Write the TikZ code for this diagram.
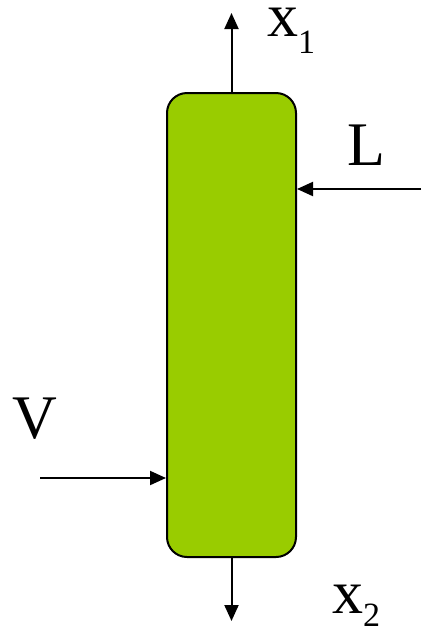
\documentclass[tikz,border=0pt]{standalone}
\usepackage{fontspec}
\setmainfont{Liberation Serif}
\usetikzlibrary{arrows.meta}
\begin{document}
\begin{tikzpicture}[x=1pt,y=-1pt,
  flow/.style={line width=2pt,-{Triangle[length=16pt,width=14pt]}},
  lbl/.style={inner sep=0pt,anchor=base west,font=\fontsize{62}{72}\selectfont},
  column/.style={draw=black,line width=2pt,fill={rgb,255:red,153;green,204;blue,0},rounded corners=20pt}]
\useasboundingbox (0,0) rectangle (421,630);
\node[column,minimum width=129pt,minimum height=464pt,inner sep=0pt] (col) at (231.5,325) {};
\coordinate (topend) at (231.5,13);
\coordinate (botend) at (231.5,621);
\coordinate (Lstart) at (421,189);
\coordinate (Vstart) at (40,478);
\draw[flow] (col.north) -- (topend);
\draw[flow] (col.south) -- (botend);
\draw[flow] (Lstart) -- (Lstart -| col.east);
\draw[flow] (Vstart) -- (Vstart -| col.west);
\node[lbl] (x1) at (267,36) {x\raisebox{-0.28em}{\fontsize{34}{40}\selectfont 1}};
\node[lbl] (L) at (347,165) {L};
\node[lbl] (V) at (12,438) {V};
\node[lbl] (x2) at (332,613) {x\raisebox{-0.22em}{\fontsize{34}{40}\selectfont 2}};
\end{tikzpicture}
\end{document}
